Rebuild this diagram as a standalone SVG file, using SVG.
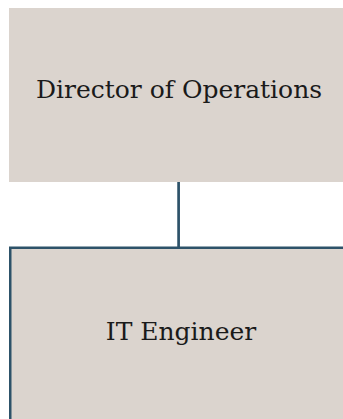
<svg xmlns="http://www.w3.org/2000/svg" width="343" height="419" viewBox="0 0 343 419">
<style>
.box{fill:#dbd4ce}
.sel{stroke:#2d5269;stroke-width:2.5}
.lbl{font-family:"DejaVu Serif","Liberation Serif",serif;font-size:25px;fill:#1a1a1a;text-anchor:middle}
.conn{stroke:#2d5269;stroke-width:2.7;fill:none}
</style>
<g id="connectors">
<line class="conn" x1="178.6" y1="182" x2="178.6" y2="248"/>
</g>
<g id="node-director">
<rect class="box" x="9" y="8" width="340" height="174"/>
<text class="lbl" x="179" y="98">Director of Operations</text>
</g>
<g id="node-it-engineer">
<rect class="box sel" x="10.25" y="247.75" width="340" height="180"/>
<text class="lbl" x="181" y="340">IT Engineer</text>
</g>
</svg>
